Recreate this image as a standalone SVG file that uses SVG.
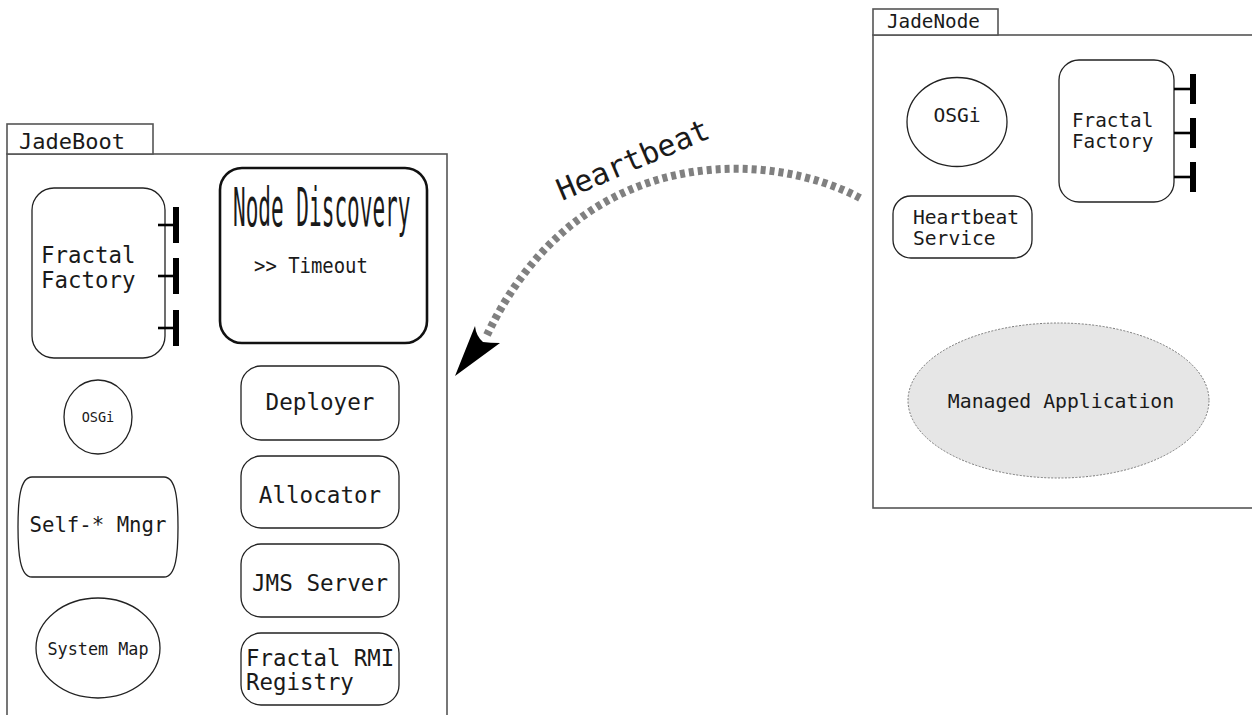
<svg xmlns="http://www.w3.org/2000/svg" width="1252" height="715" viewBox="0 0 1252 715">
  <style>
    .frame { fill: #fff; stroke: #555; stroke-width: 1.6; }
    .box { fill: #fff; stroke: #222; stroke-width: 1.3; }
    .bold { fill: #fff; stroke: #111; stroke-width: 2.6; }
    .t { font-family: "DejaVu Sans Mono", monospace; fill: #1a1a1a; }
  </style>
  <defs>
    <!-- interface port: short stub ending in a thick bar -->
    <g id="port">
      <line x1="0" y1="0" x2="21" y2="0" stroke="#000" stroke-width="2.6"/>
      <line x1="18" y1="-18" x2="18" y2="18" stroke="#000" stroke-width="6"/>
    </g>
    <g id="port-sm">
      <line x1="0" y1="0" x2="21" y2="0" stroke="#000" stroke-width="2.6"/>
      <line x1="19" y1="-15" x2="19" y2="15" stroke="#000" stroke-width="6"/>
    </g>
  </defs>
  <rect width="1252" height="715" fill="#fff"/>

  <!-- JadeBoot container -->
  <g id="jadeboot">
    <rect class="frame" x="7" y="154" width="440" height="580"/>
    <rect class="frame" x="7" y="124" width="146" height="30"/>
    <text class="t" x="19" y="149" font-size="22">JadeBoot</text>
  </g>

  <g id="boot-fractal-factory">
    <rect class="box" x="32" y="188" width="133" height="170" rx="22"/>
    <use href="#port" x="158" y="225"/>
    <use href="#port" x="158" y="276"/>
    <use href="#port" x="158" y="328"/>
    <text class="t" x="41" y="263" font-size="22.4">Fractal</text>
    <text class="t" x="41" y="288" font-size="22.4">Factory</text>
  </g>

  <g id="node-discovery">
    <rect class="bold" x="220" y="168" width="207" height="175" rx="22"/>
    <text class="t" transform="translate(233,226) scale(0.39,1)" font-size="54">Node Discovery</text>
    <text class="t" transform="translate(254,273) scale(0.86,1)" font-size="22">&gt;&gt; Timeout</text>
  </g>

  <g id="boot-osgi">
    <ellipse class="box" cx="98" cy="417" rx="34" ry="37"/>
    <text class="t" x="98" y="422" font-size="13.5" text-anchor="middle">OSGi</text>
  </g>

  <g id="self-mngr">
    <path class="box" d="M32,477 L164,477 C176,477 178,500 178,527 C178,554 176,577 164,577 L32,577 C20,577 18,554 18,527 C18,500 20,477 32,477 Z"/>
    <text class="t" x="98" y="532" font-size="20.7" text-anchor="middle">Self-* Mngr</text>
  </g>

  <g id="system-map">
    <ellipse class="box" cx="98" cy="648" rx="62" ry="50"/>
    <text class="t" x="98" y="655" font-size="16.8" text-anchor="middle">System Map</text>
  </g>

  <g id="deployer">
    <rect class="box" x="241" y="366" width="158" height="74" rx="20"/>
    <text class="t" x="320" y="410" font-size="22.6" text-anchor="middle">Deployer</text>
  </g>

  <g id="allocator">
    <rect class="box" x="241" y="456" width="158" height="72" rx="20"/>
    <text class="t" x="320" y="503" font-size="22.6" text-anchor="middle">Allocator</text>
  </g>

  <g id="jms-server">
    <rect class="box" x="241" y="544" width="158" height="73" rx="20"/>
    <text class="t" x="320" y="591" font-size="22.6" text-anchor="middle">JMS Server</text>
  </g>

  <g id="rmi-registry">
    <rect class="box" x="241" y="633" width="158" height="72" rx="20"/>
    <text class="t" x="246" y="666" font-size="22.4">Fractal RMI</text>
    <text class="t" x="246" y="690" font-size="22.4">Registry</text>
  </g>

  <!-- JadeNode container -->
  <g id="jadenode">
    <rect class="frame" x="873" y="35" width="400" height="473"/>
    <rect class="frame" x="873" y="9" width="125" height="26"/>
    <text class="t" x="887" y="28" font-size="19.3">JadeNode</text>
  </g>

  <g id="node-osgi">
    <ellipse class="box" cx="957" cy="122" rx="50" ry="44.5"/>
    <text class="t" x="957" y="122" font-size="19.6" text-anchor="middle">OSGi</text>
  </g>

  <g id="node-fractal-factory">
    <rect class="box" x="1059" y="60" width="115" height="142" rx="20"/>
    <use href="#port-sm" x="1174" y="89"/>
    <use href="#port-sm" x="1174" y="133"/>
    <use href="#port-sm" x="1174" y="177"/>
    <text class="t" x="1072" y="127" font-size="19.3">Fractal</text>
    <text class="t" x="1072" y="148" font-size="19.3">Factory</text>
  </g>

  <g id="heartbeat-service">
    <rect class="box" x="893" y="196" width="139" height="62" rx="18"/>
    <text class="t" x="913" y="224" font-size="19.6">Heartbeat</text>
    <text class="t" x="913" y="245" font-size="19.6">Service</text>
  </g>

  <g id="managed-application">
    <ellipse cx="1058.5" cy="400.5" rx="150.5" ry="77.5" fill="#e6e6e6" stroke="#777" stroke-width="1" stroke-dasharray="2,1.5"/>
    <text class="t" x="1061" y="408" font-size="19.8" text-anchor="middle">Managed Application</text>
  </g>

  <!-- Connectors -->
  <g id="connectors">
    <path d="M860,198 C770,150 580,140 487,335" fill="none" stroke="#808080" stroke-width="8" stroke-dasharray="5,4"/>
    <path d="M455,376 L475,326 Q476,336 483,342 Q490,343 500,343 Z" fill="#000"/>
    <text class="t" transform="translate(562,201) rotate(-23)" font-size="30">Heartbeat</text>
  </g>
</svg>
